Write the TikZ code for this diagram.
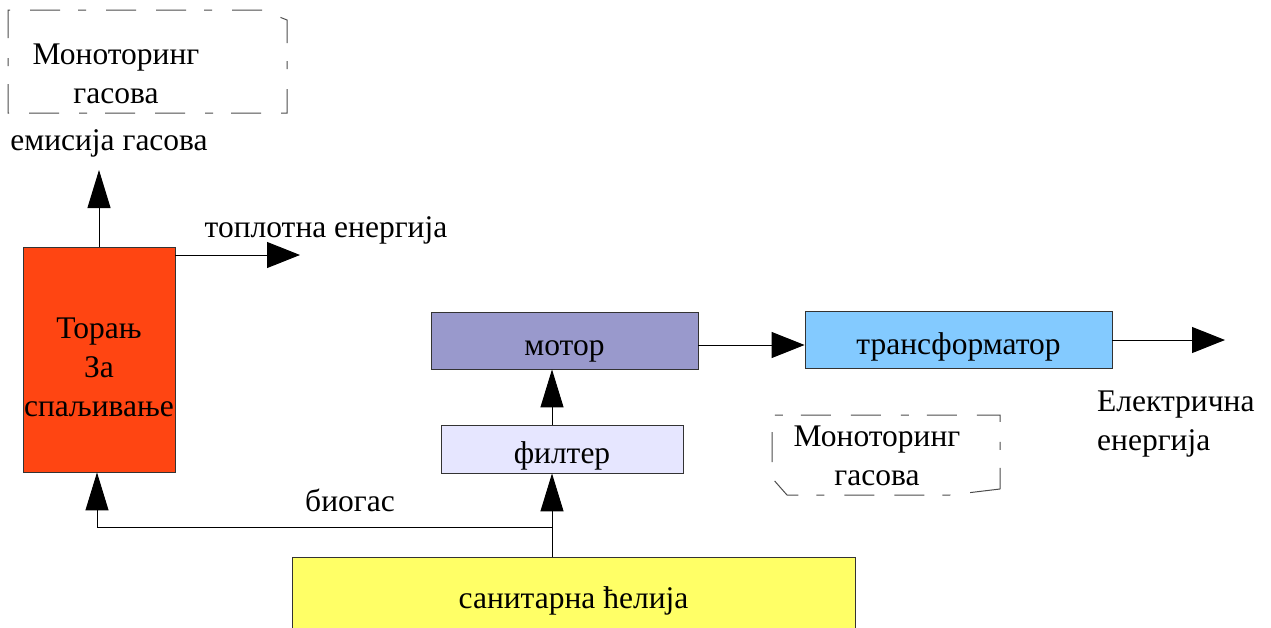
\documentclass[tikz,border=0pt]{standalone}
\usepackage{fontspec}
\setmainfont{Liberation Serif}
\usetikzlibrary{arrows.meta}
\definecolor{torcol}{HTML}{FF4512}
\definecolor{motcol}{HTML}{9999CC}
\definecolor{trcol}{HTML}{83CAFF}
\definecolor{filcol}{HTML}{E6E6FF}
\definecolor{sancol}{HTML}{FFFF66}
\definecolor{edgecol}{HTML}{333333}
\begin{document}
\begin{tikzpicture}[x=1pt,y=-1pt,
  box/.style={draw=edgecol,line width=0.8pt,rectangle,inner sep=0pt,align=center,text height=31pt,text depth=2pt,font=\fontsize{31.5}{39}\selectfont},
  lbl/.style={inner sep=0pt,font=\fontsize{31.5}{39}\selectfont},
  arr/.style={line width=1pt,-{Triangle[length=33pt,width=26pt]}},
  varr/.style={line width=1pt,-{Triangle[length=38pt,width=23pt]}},
  dbox/.style={draw=black!70,line width=1pt,dash pattern=on 30pt off 20pt on 8pt off 18pt on 30pt off 20pt}]
\useasboundingbox (0,0) rectangle (1271,627);
\clip (0,0) rectangle (1271,627);
% boxes
\node[box,fill=torcol,minimum width=152pt,minimum height=225pt] (tor) at (99,359.5) {};
\node[lbl,align=center] (tortxt) at (99,367) {Торањ\\За\\спаљивање};
\node[box,fill=motcol,minimum width=267pt,minimum height=57pt] (mot) at (564.5,340.5) {мотор};
\node[box,fill=trcol,minimum width=307pt,minimum height=57pt] (tr) at (958.5,339.5) {трансформатор};
\node[box,fill=filcol,minimum width=242pt,minimum height=48pt] (fil) at (562,449) {филтер};
\node[box,fill=sancol,minimum width=563pt,minimum height=90pt] (san) at (573.5,602) {};
\node[lbl] (santxt) at (573.5,601) {санитарна ћелија};
% dashed monitoring boxes
\draw[dbox] (262,10) -- (8,10) -- (8,113) -- (287,113) -- (287,20) -- cycle;
\node[lbl,align=center] (mon1) at (116,74) {Моноторинг\\гасова};
\draw[dbox] (1000,489) -- (950,495) -- (787,495) -- (772,478) -- (772,415) -- (1000,415) -- cycle;
\node[lbl,align=center] (mon2) at (877,456) {Моноторинг\\гасова};
% labels
\node[lbl] (emis) at (109,143) {емисија гасова};
\node[lbl] (topl) at (326,230) {топлотна енергија};
\node[lbl] (biog) at (350,500) {биогас};
\node[lbl,align=left,anchor=west] (el) at (1097,424) {Електрична\\енергија};
% coordinates
\coordinate (emT) at (99,170);
\coordinate (toT) at (300,255);
\coordinate (trT) at (1225,340);
\coordinate (j) at (552,527);
% connectors
\draw[varr] (tor.north) -- (emT);
\draw[arr] (tor.north east |- toT) -- (toT);
\draw[arr] (mot.east |- 0,345) -- (tr.west |- 0,345);
\draw[arr] (tr.east |- trT) -- (trT);
\draw[varr] (fil.north -| j) -- (mot.south -| j);
\draw[varr] (san.north -| j) -- (fil.south -| j);
\draw[varr] (j) -| ([xshift=-2pt]tor.south);
\end{tikzpicture}
\end{document}
